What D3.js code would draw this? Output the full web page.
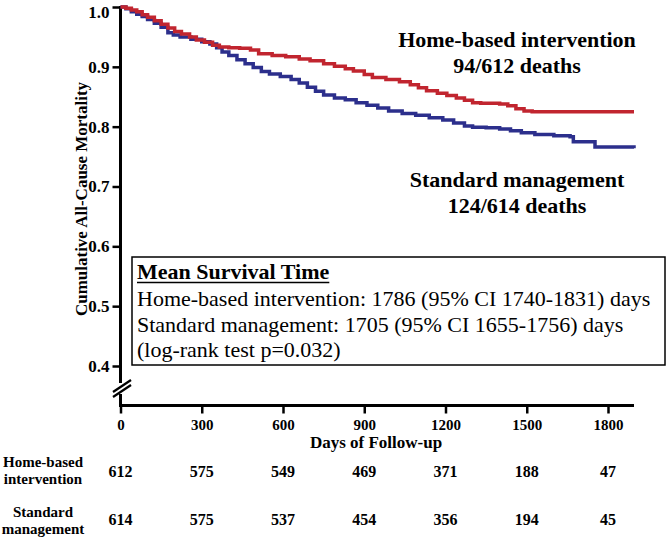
<!DOCTYPE html>
<html>
<head>
<meta charset="utf-8">
<script src="https://cdn.jsdelivr.net/npm/d3@7"></script>
<style>
  body { margin: 0; background: #fff; }
  svg { display: block; }
  text { font-family: "Liberation Serif", "Times New Roman", serif; fill: #000; }
</style>
</head>
<body>
<svg id="chart" width="666" height="537"></svg>
<script>
// ---- Data ----
const homeDays = [0,20,40,60,80,100,125,150,175,200,225,255,280,310,340,365,400,440,480,510,560,610,660,700,750,790,830,860,900,930,980,1030,1070,1100,1130,1170,1205,1240,1270,1300,1330,1400,1430,1460,1490,1520,1896];
const homeSurv = [1.000,0.998,0.995,0.992,0.987,0.983,0.977,0.971,0.965,0.959,0.955,0.950,0.945,0.941,0.936,0.933,0.932,0.931,0.928,0.922,0.919,0.917,0.913,0.910,0.905,0.901,0.897,0.893,0.887,0.882,0.879,0.875,0.870,0.865,0.860,0.856,0.852,0.848,0.844,0.840,0.839,0.838,0.835,0.830,0.826,0.825,0.825];

const stdDays = [0,20,40,60,80,100,125,150,175,195,220,260,300,330,355,375,400,430,460,490,520,550,590,630,660,690,720,750,790,830,870,910,950,990,1040,1090,1140,1190,1230,1270,1300,1350,1400,1440,1480,1530,1600,1660,1672,1752,1896];
const stdSurv = [1.000,0.997,0.992,0.988,0.984,0.979,0.973,0.966,0.957,0.953,0.950,0.946,0.942,0.938,0.932,0.925,0.919,0.912,0.905,0.899,0.892,0.888,0.884,0.879,0.873,0.866,0.859,0.853,0.848,0.845,0.840,0.836,0.831,0.826,0.822,0.819,0.815,0.811,0.806,0.801,0.799,0.798,0.796,0.793,0.790,0.787,0.785,0.783,0.775,0.766,0.764];

const xTicks = [0,300,600,900,1200,1500,1800];
const yTicks = [0.4,0.5,0.6,0.7,0.8,0.9,1.0];
const riskLabels = [["Home-based","intervention"],["Standard","management"]];
const riskHome = [612,575,549,469,371,188,47];
const riskStd = [614,575,537,454,356,194,45];
const annHome = ["Home-based intervention","94/612 deaths"];
const annStd = ["Standard management","124/614 deaths"];
const boxTitle = "Mean Survival Time";
const boxLines = ["Home-based intervention: 1786 (95% CI 1740-1831) days",
                  "Standard management: 1705 (95% CI 1655-1756) days",
                  "(log-rank test p=0.032)"];
const xTitle = "Days of Follow-up";
const yTitle = "Cumulative All-Cause Mortality";

// ---- Layout ----
const svg = d3.select("#chart");
const x0 = 120.5, xEndDay = 1896;
const x = d3.scaleLinear().domain([0, 1800]).range([x0, 608]);
const y = d3.scaleLinear().domain([0.4, 1.0]).range([366, 7]);
const axisY = 405.5;
const red = "#c1252f", blue = "#2c2f8c";
const FF = "Liberation Serif, Times New Roman, serif";

// x axis
const xAxis = svg.append("g").attr("transform", `translate(0,${axisY})`)
  .call(d3.axisBottom(x).tickValues(xTicks).tickSize(8).tickPadding(6).tickFormat(d3.format("d")));
xAxis.select(".domain").remove();
xAxis.append("line").attr("x1", x0 - 1.5).attr("x2", x(xEndDay)).attr("stroke", "#000").attr("stroke-width", 3);
xAxis.selectAll(".tick line").attr("stroke-width", 2.5);
xAxis.selectAll(".tick text").attr("font-size", 15).attr("font-weight", "bold")
  .attr("font-family", FF).attr("fill", "#000");

// y axis
const yAxis = svg.append("g").attr("transform", `translate(${x0},0)`)
  .call(d3.axisLeft(y).tickValues(yTicks).tickSize(8).tickPadding(3).tickFormat(d3.format(".1f")));
yAxis.select(".domain").remove();
yAxis.selectAll(".tick line").attr("stroke-width", 2.5);
yAxis.selectAll(".tick text").attr("font-size", 17).attr("font-weight", "bold")
  .attr("font-family", FF).attr("fill", "#000")
  .attr("dy", d => d === 1.0 ? "0.62em" : "0.32em");
svg.append("line").attr("x1", x0).attr("x2", x0).attr("y1", y(1.0) - 1).attr("y2", 383)
  .attr("stroke", "#000").attr("stroke-width", 3);
svg.append("line").attr("x1", x0).attr("x2", x0).attr("y1", 394).attr("y2", axisY)
  .attr("stroke", "#000").attr("stroke-width", 3);
// break marks
[0, 5].forEach(o => {
  svg.append("line").attr("x1", 113).attr("y1", 392 + o).attr("x2", 131).attr("y2", 380 + o)
    .attr("stroke", "#000").attr("stroke-width", 2.2);
});

// curves
const line = d3.line().x(d => x(d[0])).y(d => y(d[1])).curve(d3.curveStepAfter);
svg.append("path").datum(stdDays.map((d, i) => [d, stdSurv[i]]))
  .attr("d", line).attr("fill", "none").attr("stroke", blue).attr("stroke-width", 3.5);
svg.append("path").datum(homeDays.map((d, i) => [d, homeSurv[i]]))
  .attr("d", line).attr("fill", "none").attr("stroke", red).attr("stroke-width", 3.5);

// axis titles
svg.append("text").attr("x", 376).attr("y", 448).attr("text-anchor", "middle")
  .attr("font-size", 17).attr("font-weight", "bold").text(xTitle);
svg.append("text").attr("transform", "translate(87,199) rotate(-90)").attr("text-anchor", "middle")
  .attr("font-size", 17).attr("font-weight", "bold").text(yTitle);

// annotations
[[annHome[0], 47], [annHome[1], 73], [annStd[0], 187], [annStd[1], 213]].forEach(([t, by]) => {
  svg.append("text").attr("x", 517).attr("y", by).attr("text-anchor", "middle")
    .attr("font-size", 22).attr("font-weight", "bold").text(t);
});

// box
svg.append("rect").attr("x", 132).attr("y", 257).attr("width", 533).attr("height", 108)
  .attr("fill", "#fff").attr("stroke", "#000").attr("stroke-width", 1.5);
const bt = svg.append("text").attr("x", 137).attr("y", 279).attr("font-size", 22)
  .attr("font-weight", "bold").text(boxTitle);
const bw = bt.node().getComputedTextLength();
svg.append("line").attr("x1", 137).attr("x2", 137 + bw).attr("y1", 282.5).attr("y2", 282.5)
  .attr("stroke", "#000").attr("stroke-width", 1.5);
boxLines.forEach((t, i) => {
  svg.append("text").attr("x", 137).attr("y", 306 + i * 25.5).attr("font-size", 22).text(t);
});

// risk table
riskLabels.forEach((lab, r) => {
  const by = r === 0 ? 467 : 517;
  lab.forEach((t, k) => {
    svg.append("text").attr("x", 43).attr("y", by + k * 17).attr("text-anchor", "middle")
      .attr("font-size", 15).attr("font-weight", "bold").text(t);
  });
});
[riskHome, riskStd].forEach((arr, r) => {
  svg.selectAll(null).data(arr).enter().append("text")
    .attr("x", (d, i) => x(xTicks[i])).attr("y", r === 0 ? 477 : 525)
    .attr("text-anchor", "middle").attr("font-size", 16).attr("font-weight", "bold")
    .text(d => d);
});
</script>
</body>
</html>
